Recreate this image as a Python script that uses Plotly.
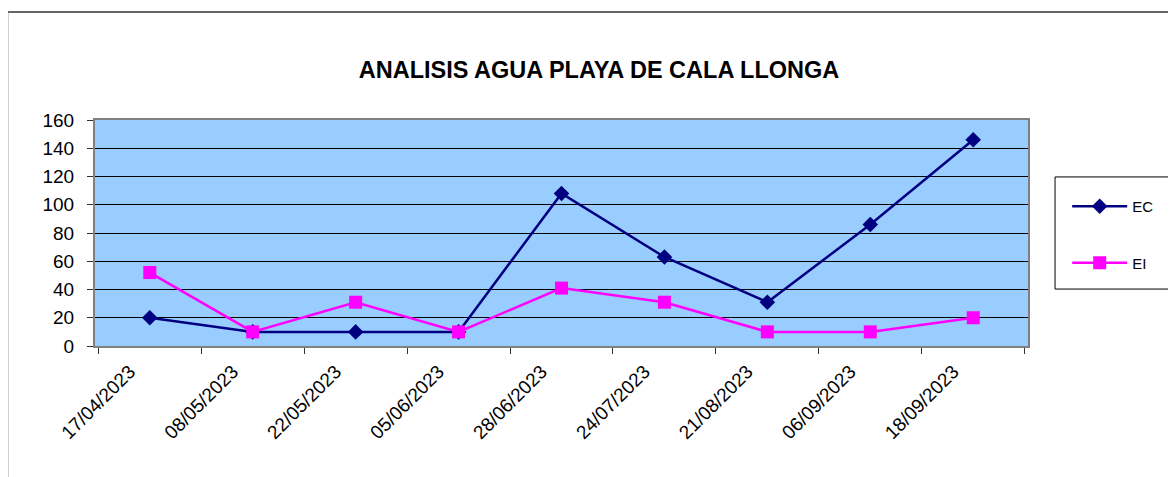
import plotly.graph_objects as go

fechas = ["17/04/2023", "08/05/2023", "22/05/2023", "05/06/2023", "28/06/2023",
          "24/07/2023", "21/08/2023", "06/09/2023", "18/09/2023"]
ec = [20, 10, 10, 10, 108, 63, 31, 86, 146]
ei = [52, 10, 31, 10, 41, 31, 10, 10, 20]

FUENTE = "Arial, Liberation Sans, sans-serif"

fig = go.Figure()

fig.add_trace(go.Scatter(
    x=fechas, y=ec, name="EC", mode="lines+markers", legendgroup="ec",
    line=dict(color="#000080", width=2.5),
    marker=dict(symbol="diamond", size=12, color="#000080"),
))
fig.add_trace(go.Scatter(
    x=fechas, y=ei, name="EI", mode="lines+markers", legendgroup="ei",
    line=dict(color="#FF00FF", width=2.5),
    marker=dict(symbol="square", size=13, color="#FF00FF"),
))

# borde exterior del grafico y caja de la leyenda
fig.add_shape(type="path", xref="paper", yref="paper",
              path="M -0.094,-1 L -0.094,1.478 L 2,1.478",
              line=dict(color="#666666", width=2))
fig.add_shape(type="rect", xref="paper", yref="paper",
              x0=1.029, x1=1.153, y0=0.252, y1=0.748,
              line=dict(color="#000000", width=1), fillcolor="rgba(0,0,0,0)")

# la pagina tiene 8px de margen en el body: se descuentan aqui
fig.update_layout(
    width=1168, height=469,
    margin=dict(l=87, r=148, t=112, b=131),
    paper_bgcolor="white",
    plot_bgcolor="#99CCFF",
    font=dict(family=FUENTE, color="black"),
    title=dict(
        text="<b>ANALISIS AGUA PLAYA DE CALA LLONGA</b>",
        font=dict(size=23.5, color="black"),
        xref="container", x=0.506, xanchor="center",
        yref="container", y=0.868, yanchor="middle",
    ),
    showlegend=True,
    legend=dict(
        x=1.042, xanchor="left", y=0.69, yanchor="top",
        bgcolor="rgba(0,0,0,0)", borderwidth=0,
        font=dict(size=15, color="black"),
        traceorder="grouped", tracegroupgap=34,
        itemwidth=55,
    ),
    xaxis=dict(
        type="category", categoryorder="array", categoryarray=fechas,
        tickson="boundaries", ticks="outside", ticklen=6, tickcolor="#333333",
        tickangle=-45, tickfont=dict(size=19),
        ticklabelshift=-20, ticklabelstandoff=5,
        showgrid=False, showline=True, linecolor="#808080", linewidth=2, mirror=True,
        zeroline=False,
    ),
    yaxis=dict(
        range=[0, 160], tickmode="linear", tick0=0, dtick=20,
        ticks="outside", ticklen=6, tickcolor="#333333", tickfont=dict(size=19),
        ticklabelstandoff=9,
        showgrid=True, gridcolor="#000000", gridwidth=1,
        showline=True, linecolor="#808080", linewidth=2, mirror=True,
        zeroline=False,
    ),
)

fig.write_html("out.html")
